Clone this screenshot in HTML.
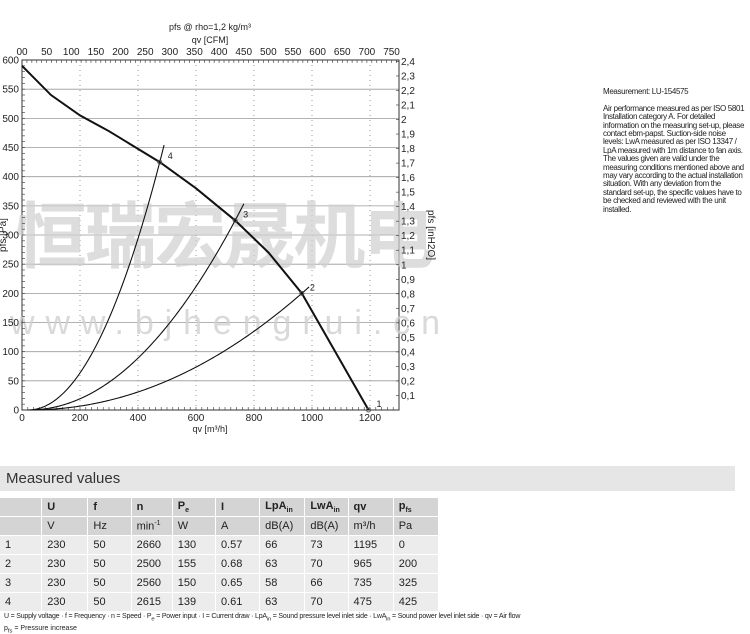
<!DOCTYPE html>
<html><head><meta charset="utf-8"><style>
body{margin:0;background:#fff;width:750px;height:634px;overflow:hidden;position:relative;font-family:"Liberation Sans",Arial,sans-serif;}
.t{position:absolute;}
table{border-collapse:separate;border-spacing:1px;position:absolute;left:-1px;top:497px;font-size:11px;color:#222;table-layout:fixed;width:440px;}
td{height:18px;padding:0 0 0 5px;overflow:hidden;white-space:nowrap;}
tr.h td{background:#d4d4d4;}
tr.d td{background:#ececec;}
</style></head><body>
<svg id="c" width="750" height="460" style="position:absolute;left:0;top:0" font-family="Liberation Sans, Arial, sans-serif"></svg>
<div class="t" style="left:603px;top:88px;font-size:8px;line-height:8.4px;color:#222;width:142px;letter-spacing:-0.35px">Measurement: LU-154575<br><br>Air performance measured as per ISO 5801 Installation category A. For detailed information on the measuring set-up, please contact ebm-papst. Suction-side noise levels: LwA measured as per ISO 13347 / LpA measured with 1m distance to fan axis. The values given are valid under the measuring conditions mentioned above and may vary according to the actual installation situation. With any deviation from the standard set-up, the specific values have to be checked and reviewed with the unit installed.</div>
<div class="t" style="left:0;top:466px;width:735px;height:25px;background:#e6e6e6;font-size:15px;line-height:25px;padding-left:6px;box-sizing:border-box;color:#333">Measured values</div>
<table>
<colgroup><col style="width:41px"><col style="width:45px"><col style="width:42px"><col style="width:40px"><col style="width:42px"><col style="width:43px"><col style="width:44px"><col style="width:42px"><col style="width:44px"><col style="width:44px"></colgroup>
<tr class="h"><td></td><td><b>U</b></td><td><b>f</b></td><td><b>n</b></td><td><b>P<sub style="font-size:7px">e</sub></b></td><td><b>I</b></td><td><b>LpA<sub style="font-size:7px">in</sub></b></td><td><b>LwA<sub style="font-size:7px">in</sub></b></td><td><b>qv</b></td><td><b>p<sub style="font-size:7px">fs</sub></b></td></tr>
<tr class="h"><td></td><td>V</td><td>Hz</td><td>min<sup style="font-size:7px">-1</sup></td><td>W</td><td>A</td><td>dB(A)</td><td>dB(A)</td><td>m³/h</td><td>Pa</td></tr>
<tr class="d"><td>1</td><td>230</td><td>50</td><td>2660</td><td>130</td><td>0.57</td><td>66</td><td>73</td><td>1195</td><td>0</td></tr>
<tr class="d"><td>2</td><td>230</td><td>50</td><td>2500</td><td>155</td><td>0.68</td><td>63</td><td>70</td><td>965</td><td>200</td></tr>
<tr class="d"><td>3</td><td>230</td><td>50</td><td>2560</td><td>150</td><td>0.65</td><td>58</td><td>66</td><td>735</td><td>325</td></tr>
<tr class="d"><td>4</td><td>230</td><td>50</td><td>2615</td><td>139</td><td>0.61</td><td>63</td><td>70</td><td>475</td><td>425</td></tr>
</table>
<div class="t" style="left:4px;top:613px;font-size:7px;color:#222;letter-spacing:-0.2px">U = Supply voltage · f = Frequency · n = Speed · P<sub>e</sub> = Power input · I = Current draw · LpA<sub>in</sub> = Sound pressure level inlet side · LwA<sub>in</sub> = Sound power level inlet side · qv = Air flow</div>
<div class="t" style="left:4px;top:625px;font-size:7px;color:#222">p<sub>fs</sub> = Pressure increase</div>
<script>
const s=document.getElementById('c');let h='';
const X=q=>22+q*0.29, Y=p=>410-p*0.5833;
for(let p=50;p<600;p+=50)h+=`<line x1="22" x2="399" y1="${Y(p)}" y2="${Y(p)}" stroke="#999" stroke-width="0.8"/>`;
for(let q=200;q<=1200;q+=200)h+=`<line y1="60" y2="410" x1="${X(q)}" x2="${X(q)}" stroke="#999" stroke-dasharray="1,4"/>`;
h+=`<rect x="22" y="60" width="377" height="350" fill="none" stroke="#333" stroke-width="1"/>`;
h+=`<text x="225" y="262" font-size="72" font-family="Noto Sans CJK SC, sans-serif" font-weight="bold" fill="#cfcfcf" fill-opacity="0.7" text-anchor="middle" textLength="420" lengthAdjust="spacing">恒瑞宏晟机电</text>`;
h+=`<text x="10" y="334" font-size="34" fill="#d0d0d0" fill-opacity="0.8" textLength="430" lengthAdjust="spacing">www.bjhengrui.cn</text>`;
for(let p=0;p<=600;p+=50)h+=`<text x="19" y="${Y(p)+3.5}" font-size="10" text-anchor="end" fill="#222">${p}</text>`;
for(let p=0;p<=600;p+=10)h+=`<line x1="22" x2="25" y1="${Y(p)}" y2="${Y(p)}" stroke="#333" stroke-width="0.6"/>`;
for(let i=1;i<=24;i++){let p=i*24.9;let l=(i/10).toFixed(1).replace('.',',');if(i%10==0)l=String(i/10);h+=`<text x="401" y="${Y(p)+3.5}" font-size="10" fill="#222">${l}</text>`;h+=`<line x1="396" x2="399" y1="${Y(p)}" y2="${Y(p)}" stroke="#333" stroke-width="0.6"/>`;}
h+=`<text transform="translate(428,235) rotate(90)" font-size="10" fill="#222" text-anchor="middle">pfs [inH2O]</text>`;
h+=`<text transform="translate(6,235) rotate(-90)" font-size="10" fill="#222" text-anchor="middle">pfs [Pa]</text>`;
for(let q=0;q<=1200;q+=200)h+=`<text x="${X(q)}" y="421" font-size="10" text-anchor="middle" fill="#222">${q}</text>`;
for(let q=0;q<=1300;q+=20)h+=`<line x1="${X(q)}" x2="${X(q)}" y1="407" y2="410" stroke="#333" stroke-width="0.6"/>`;
h+=`<text x="210" y="432" font-size="9" text-anchor="middle" fill="#222">qv [m³/h]</text>`;
for(let c=0;c<=750;c+=50){h+=`<text x="${X(c*1.699)}" y="55" font-size="10" text-anchor="middle" fill="#222">${c==0?'00':c}</text>`;}
for(let c=0;c<=760;c+=10)h+=`<line x1="${X(c*1.699)}" x2="${X(c*1.699)}" y1="60" y2="63" stroke="#333" stroke-width="0.6"/>`;
h+=`<text x="210" y="43" font-size="9" text-anchor="middle" fill="#222">qv [CFM]</text>`;
h+=`<text x="210" y="30" font-size="9" text-anchor="middle" fill="#222">pfs @ rho=1,2 kg/m³</text>`;
const f=[[0,590],[100,540],[200,505],[300,478],[475,425],[600,380],[735,325],[850,270],[965,200],[1080,100],[1195,0]];
h+=`<polyline fill="none" stroke="#111" stroke-width="2" points="${f.map(a=>X(a[0])+','+Y(a[1])).join(' ')}"/>`;
[[475,425,490],[735,325,768],[965,200,990]].forEach(([q0,p0,qe])=>{let k=p0/Math.pow(q0-20,2.05);let pts=[];for(let q=20;q<=qe;q+=5)pts.push(X(q)+','+Y(k*Math.pow(q-20,2.05)));h+=`<polyline fill="none" stroke="#111" stroke-width="1.1" points="${pts.join(' ')}"/>`;});
[[475,425,'4'],[735,325,'3'],[965,200,'2'],[1195,0,'1']].forEach(([q,p,l])=>{h+=`<circle cx="${X(q)}" cy="${Y(p)}" r="2" fill="none" stroke="#555"/><text x="${X(q)+8}" y="${Y(p)-3}" font-size="9" fill="#222">${l}</text>`;});
s.innerHTML=h;
</script>
</body></html>
